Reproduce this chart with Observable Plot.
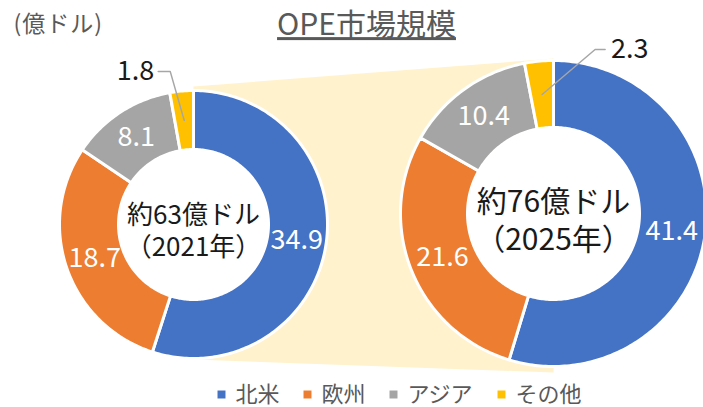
<!DOCTYPE html>
<html><head><meta charset="utf-8">
<script src="https://cdn.jsdelivr.net/npm/d3@7"></script>
<script src="https://cdn.jsdelivr.net/npm/@observablehq/plot@0.6"></script>
<style>body{margin:0;background:#fff;}</style>
</head><body><div id="chart"></div>
<script>
// ---- data ----
const categories = ["北米", "欧州", "アジア", "その他"];
const colors = ["#4472C4", "#ED7D31", "#A5A5A5", "#FFC000"];
const values2021 = [34.9, 18.7, 8.1, 1.8];
const values2025 = [41.4, 21.6, 10.4, 2.3];
const totalLabels = ["約63億ドル", "約76億ドル"];
const yearLabels = ["（2021年）", "（2025年）"];
const titleText = "OPE市場規模";
const unitText = "(億ドル)";

// ---- layout ----
const W = 703, H = 407;
const FONT = "'Noto Sans CJK JP', 'Noto Sans', sans-serif";
const donuts = [
  {id: "d1", values: values2021, cx: 193, cy: 224, R: 134, r: 75, center: totalLabels[0], year: yearLabels[0],
   cfs: 26, cy2: 229, lh: 1.23, elbow: [-14, -49], tail: -12},
  {id: "d2", values: values2025, cx: 553, cy: 213, R: 153, r: 86, center: totalLabels[1], year: yearLabels[1],
   cfs: 30, cy2: 218, lh: 1.27, elbow: [53, -45], tail: 10}
];
const pt = (cx, cy, rad, a) => ({x: cx + rad * Math.sin(a * Math.PI / 180), y: cy - rad * Math.cos(a * Math.PI / 180)});

const slicePts = [], holePts = [], inLabels = [], outLeft = [], outRight = [], leaderPts = [], centerTexts = [];
donuts.forEach(d => {
  const total = d3.sum(d.values);
  let a = 0;
  d.values.forEach((v, i) => {
    const a0 = a, a1 = a + v / total * 360; a = a1;
    const key = d.id + i;
    const n = Math.max(2, Math.ceil((a1 - a0)));
    for (let k = 0; k <= n; k++) slicePts.push({key, cat: categories[i], ...pt(d.cx, d.cy, d.R, a0 + (a1 - a0) * k / n)});
    for (let k = n; k >= 0; k--) slicePts.push({key, cat: categories[i], ...pt(d.cx, d.cy, d.r, a0 + (a1 - a0) * k / n)});
    const m = pt(d.cx, d.cy, (d.R + d.r) / 2, (a0 + a1) / 2);
    if (i < 3) inLabels.push({...m, text: v.toFixed(1)});
    else {
      const e = {x: m.x + d.elbow[0], y: m.y + d.elbow[1]};
      const t = {x: e.x + d.tail, y: e.y};
      leaderPts.push({key: key, ...m}, {key: key, ...e}, {key: key, ...t});
      (d.tail < 0 ? outLeft : outRight).push({x: t.x + (d.tail < 0 ? -4 : 6), y: t.y, text: v.toFixed(1)});
    }
  });
  for (let k = 0; k <= 360; k += 3) holePts.push({key: d.id, ...pt(d.cx, d.cy, d.r - 1, k)});
  centerTexts.push({x: d.cx, y: d.cy2, text: d.center + "\n" + d.year, fs: d.cfs, lh: d.lh});
});
const [L, Rr] = donuts;
const bandPts = [
  {x: L.cx, y: L.cy - L.R - 4}, {x: Rr.cx, y: Rr.cy - Rr.R - 2},
  {x: Rr.cx, y: Rr.cy + Rr.R + 6}, {x: L.cx, y: L.cy + L.R + 1}
];

// legend
const legend = [];
let lx = 221;
categories.forEach((c, i) => {
  legend.push({cat: c, sx: lx, tx: lx + 14});
  lx = lx + 14 + c.length * 22 + 28;
});

const chart = Plot.plot({
  width: W, height: H,
  margin: 0,
  x: {domain: [0, W], range: [0, W], axis: null},
  y: {domain: [0, H], range: [0, H], axis: null},
  color: {domain: categories, range: colors},
  style: {fontFamily: FONT, background: "#fff"},
  marks: [
    Plot.line(bandPts, {x: "x", y: "y", fill: "#FFF2CC", stroke: "none", curve: "linear-closed"}),
    Plot.line(holePts, {x: "x", y: "y", z: "key", fill: "#fff", stroke: "none", curve: "linear-closed"}),
    Plot.line(slicePts, {x: "x", y: "y", z: "key", fill: "cat", stroke: "#fff", strokeWidth: 3, strokeLinejoin: "round", curve: "linear-closed"}),
    Plot.line(leaderPts, {x: "x", y: "y", z: "key", stroke: "#A6A6A6", strokeWidth: 1.5}),
    Plot.text(inLabels, {x: "x", y: "y", text: "text", fill: "#fff", fontSize: 27}),
    Plot.text(outLeft, {x: "x", y: "y", text: "text", fill: "#1a1a1a", fontSize: 27, textAnchor: "end"}),
    Plot.text(outRight, {x: "x", y: "y", text: "text", fill: "#1a1a1a", fontSize: 27, textAnchor: "start"}),
    Plot.text(centerTexts.slice(0, 1), {x: "x", y: "y", text: "text", fill: "#1a1a1a", fontSize: 26, lineHeight: 1.23}),
    Plot.text(centerTexts.slice(1), {x: "x", y: "y", text: "text", fill: "#1a1a1a", fontSize: 30, lineHeight: 1.27}),
    Plot.text([titleText], {x: 366, y: 25, text: d => d, fill: "#595959", fontSize: 30}),
    Plot.text([unitText], {x: 13, y: 24, text: d => d, fill: "#595959", fontSize: 23, textAnchor: "start"}),
    Plot.dot(legend, {x: "sx", y: 394, fill: "cat", symbol: "square", r: 4.5}),
    Plot.text(legend, {x: "tx", y: 394, text: "cat", fill: "#595959", fontSize: 22, textAnchor: "start"})
  ]
});
const sel = d3.select(chart).selectAll("text");
sel.filter(function() { return this.textContent === titleText; }).attr("text-decoration", "underline");
sel.filter(function() { return this.textContent === unitText; }).attr("letter-spacing", "1px");
document.getElementById("chart").appendChild(chart);
</script>
</body></html>
